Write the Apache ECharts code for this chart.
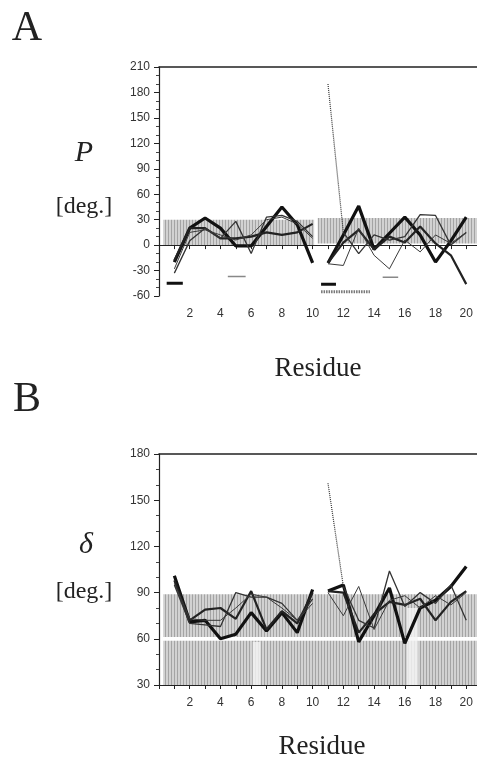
<!DOCTYPE html>
<html><head><meta charset="utf-8">
<script src="https://cdn.jsdelivr.net/npm/echarts@6/dist/echarts.min.js"></script>
<style>html,body{margin:0;padding:0;background:#fff}#c{width:477px;height:760px}</style>
</head><body><div id="c"></div>
<script>
// ---------- data ----------
const residues = [1,2,3,4,5,6,7,8,9,10,11,12,13,14,15,16,17,18,19,20];
const xTickLabels = [2,4,6,8,10,12,14,16,18,20];
const yTicksA = [-60,-30,0,30,60,90,120,150,180,210];
const yTicksB = [30,60,90,120,150,180];

// Panel A: pseudorotation phase P (deg) for four structures
const pA1 = [-20, 20, 32, 20, -1, -1, 22, 45, 24, -21,   -21, 12, 46, -5, 14, 33, 12, -20, 5, 33];
const pA2 = [-18, 20, 20, 8, 8, 10, 15, 12, 15, 25,      -21, 3, 18, -5, 10, 3, 22, 2, -12, -46];
const pA3 = [-33, 5, 20, 8, 28, -10, 33, 35, 28, 10,     190, 15, -10, 12, 6, 10, 36, 35, 0, 15];
const pA4 = [-28, 15, 18, 12, 6, 12, 30, 33, 25, 8,      -22, -24, 20, -12, -28, 6, -8, 12, 2, 15];
// Panel B: delta torsion (deg)
const dB1 = [101, 71, 72, 60, 63, 77, 65, 77, 64, 92,    91, 95, 58, 75, 93, 57, 80, 85, 94, 107];
const dB2 = [98, 72, 79, 80, 73, 91, 66, 78, 70, 90,     91, 90, 64, 76, 84, 82, 86, 72, 84, 91];
const dB3 = [95, 70, 69, 68, 90, 87, 87, 83, 72, 86,     161, 94, 72, 67, 104, 81, 90, 83, 95, 72];
const dB4 = [96, 73, 72, 72, 80, 89, 87, 80, 72, 83,     90, 75, 94, 66, 85, 88, 80, 88, 82, 90];
// residue index where series 3 starts with a dotted (wrapped) segment
const dottedStart = 11;

// shaded reference ranges [x0, x1, y0, y1]
const bandsA = [[0.27, 10.1, 0, 30], [10.33, 21, 2, 32]];
const bandsB = [[0.27, 21, 30, 58.8], [0.27, 21, 61.2, 89]];
const streaksB = [[6.1, 6.6, 30, 58], [16.15, 16.85, 30, 80]];
// marker bars in panel A: [x0, x1, y]
const barsThick = [[0.5, 1.55, -45], [10.55, 11.52, -46]];
const barsThin = [[4.48, 5.64, -37], [14.56, 15.57, -38]];
const barsHatched = [[10.55, 13.73, -55]];

// ---------- helpers ----------
function hatch(bg, ln) {
  const c = document.createElement('canvas'); c.width = 3; c.height = 4;
  const g = c.getContext('2d'); g.fillStyle = bg; g.fillRect(0, 0, 3, 4);
  g.fillStyle = ln; g.fillRect(0, 0, 1, 4); return c;
}
const pat = { image: hatch('#d2d2d2', '#a4a4a4'), repeat: 'repeat' };

function rectSeries(list, gi, fill, z) {
  return {
    type: 'custom', xAxisIndex: gi, yAxisIndex: gi, z: z, silent: true, clip: true,
    data: list,
    renderItem: function (params, api) {
      const p0 = api.coord([api.value(0), api.value(3)]);
      const p1 = api.coord([api.value(1), api.value(2)]);
      return { type: 'rect', shape: { x: p0[0], y: p0[1], width: p1[0] - p0[0], height: p1[1] - p0[1] },
               style: { fill: fill } };
    }
  };
}
const styles = [
  { width: 3.2, color: '#111' },
  { width: 2.2, color: '#222' },
  { width: 1.3, color: '#333' },
  { width: 1.0, color: '#3a3a3a' }
];
function lineSeries(vals, gi, st, dotted) {
  const out = [];
  const s1 = [], s2 = [], dot = [];
  residues.forEach((r, i) => {
    if (r <= 10) s1.push([r, vals[i]]);
    else if (dotted && r === dottedStart) dot.push([r, vals[i]]);
    else s2.push([r, vals[i]]);
  });
  if (dotted) dot.push(s2[0]);
  [s1, s2].forEach(d => out.push({
    type: 'line', xAxisIndex: gi, yAxisIndex: gi, data: d, symbol: 'none', z: 5,
    lineStyle: { width: st.width, color: st.color }, silent: true, animation: false
  }));
  if (dotted) out.push({
    type: 'line', xAxisIndex: gi, yAxisIndex: gi, data: dot, symbol: 'none', z: 5,
    lineStyle: { width: 1.2, color: '#333', type: [1, 1] }, silent: true, animation: false
  });
  return out;
}
function barSeries(list, gi, style) {
  return list.map(b => ({
    type: 'line', xAxisIndex: gi, yAxisIndex: gi, data: [[b[0], b[2]], [b[1], b[2]]],
    symbol: 'none', z: 6, silent: true, animation: false, lineStyle: style
  }));
}

const XMAX = 20.7;
const lblFont = { fontFamily: 'Liberation Sans', fontSize: 12, color: '#333' };
function xAx(gi, margin) {
  return {
    type: 'value', gridIndex: gi, min: 0, max: XMAX, interval: 1,
    axisLine: { lineStyle: { color: '#222', width: 1.2 } },
    axisTick: { length: 4, lineStyle: { color: '#222' } },
    splitLine: { show: false },
    axisLabel: Object.assign({ margin: margin, showMaxLabel: false,
      formatter: v => (xTickLabels.indexOf(v) >= 0 ? String(v) : '') }, lblFont)
  };
}
function xTop(gi) {
  return {
    type: 'value', gridIndex: gi, position: 'top', min: 0, max: XMAX,
    axisLine: { show: true, onZero: false, lineStyle: { color: '#222', width: 1.6 } },
    axisTick: { show: false }, axisLabel: { show: false }, splitLine: { show: false }
  };
}
function yAx(gi, ticks) {
  return {
    type: 'value', gridIndex: gi, min: ticks[0], max: ticks[ticks.length - 1], interval: 30,
    axisLine: { show: true, onZero: false, lineStyle: { color: '#222', width: 1.2 } },
    axisTick: { show: true, length: 5, lineStyle: { color: '#222' } },
    minorTick: { show: true, splitNumber: 3, length: 3, lineStyle: { color: '#444' } },
    splitLine: { show: false },
    axisLabel: Object.assign({ margin: 9 }, lblFont)
  };
}

const series = [];
series.push(rectSeries(bandsA, 0, pat, 1));
series.push(rectSeries(bandsB, 1, pat, 1));
series.push(rectSeries(streaksB, 1, 'rgba(245,245,245,0.8)', 2));
[pA1, pA2, pA3, pA4].forEach((v, k) => series.push(...lineSeries(v, 0, styles[k], k === 2)));
[dB1, dB2, dB3, dB4].forEach((v, k) => series.push(...lineSeries(v, 1, styles[k], k === 2)));
series.push(...barSeries(barsThick, 0, { width: 3, color: '#111' }));
series.push(...barSeries(barsThin, 0, { width: 1.5, color: '#888' }));
series.push(...barSeries(barsHatched, 0, { width: 3, color: '#777', type: [1.5, 1] }));

const serif = 'Liberation Serif';
function txt(x, y, s, size, italic) {
  return { type: 'text', x: x, y: y, silent: true,
    style: { text: s, fontFamily: serif, fontSize: size, fontStyle: italic ? 'italic' : 'normal',
             fill: '#222', align: 'center', verticalAlign: 'middle' } };
}

const chart = echarts.init(document.getElementById('c'), null, { renderer: 'canvas' });
chart.setOption({
  animation: false,
  backgroundColor: '#fff',
  grid: [
    { left: 159, top: 67, right: 0, height: 229 },
    { left: 159, top: 454, right: 0, height: 231 }
  ],
  xAxis: [xAx(0, 12), xAx(1, 12), xTop(0), xTop(1)],
  yAxis: [yAx(0, yTicksA), yAx(1, yTicksB)],
  series: series,
  graphic: [
    txt(27, 29, 'A', 42, false),
    txt(84, 153, 'P', 30, true),
    txt(84, 207, '[deg.]', 24, false),
    txt(318, 369, 'Residue', 27, false),
    txt(27, 400, 'B', 42, false),
    txt(86, 545, 'δ', 30, true),
    txt(84, 592, '[deg.]', 24, false),
    txt(322, 747, 'Residue', 27, false)
  ]
});
</script></body></html>
